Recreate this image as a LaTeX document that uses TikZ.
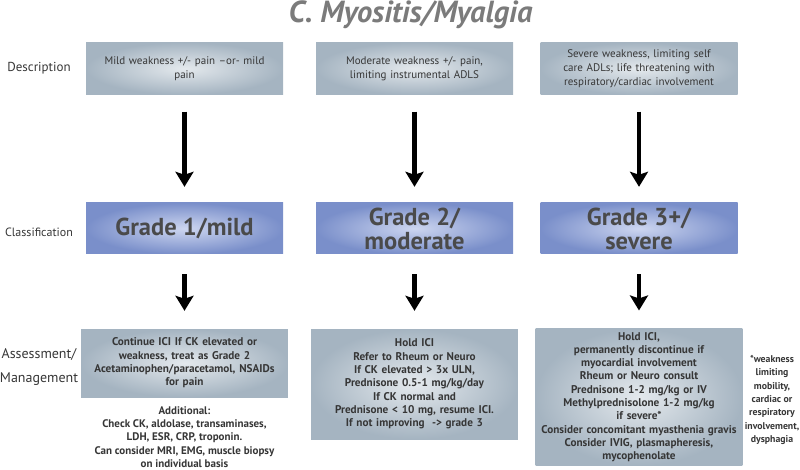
\documentclass[tikz,border=0pt]{standalone}
\usepackage{fontspec}
\setmainfont{PT Sans}
\usepackage{xcolor}
\usepackage{tikz}
\usetikzlibrary{positioning,arrows.meta}
\definecolor{boxedge}{HTML}{A5B4C1}
\definecolor{boxcentre}{HTML}{E4E9ED}
\definecolor{gradeedge}{HTML}{7A8FCA}
\definecolor{gradecentre}{HTML}{CDD6F0}
\definecolor{inkgray}{HTML}{363636}
\definecolor{titlegray}{HTML}{7B7B7B}
\tikzset{
	% The row names on the left side
	rowlabel/.style={
		text=inkgray,align=center,font=\fontsize{13}{15}\selectfont
	},
	% The grey boxes with the symptoms
	description/.style={
		rectangle,minimum width=197pt,minimum height=52pt,
		inner color=boxcentre,outer color=boxedge,
		text=inkgray,align=center,text width=185pt,
		font=\fontsize{11}{14}\selectfont
	},
	% The blue boxes with the grades
	grade/.style={
		rectangle,minimum width=197pt,minimum height=51pt,
		inner color=gradecentre,outer color=gradeedge,
		text=inkgray!90,align=center,
		font=\fontsize{24.5}{24}\bfseries\selectfont
	},
	% The grey boxes with what to do
	management/.style={
		rectangle,minimum width=197pt,
		inner color=boxcentre,outer color=boxedge,
		text=inkgray,align=center,text width=200pt,
		font=\fontsize{11.2}{13.3}\bfseries\selectfont
	},
	% Free text beside the boxes
	note/.style={
		text=inkgray,align=center,
		font=\fontsize{11}{13.3}\bfseries\selectfont
	},
	% The arrows between the rows
	flow/.style={
		-{Stealth[width=18pt,length=15pt,inset=3pt]},line width=4.5pt,
		shorten <=17pt,shorten >=16pt
	},
}
\begin{document}
\begin{tikzpicture}[x=1pt,y=-1pt]
		\useasboundingbox (0,0) rectangle (800,470);
		\node [anchor=base,text=titlegray,font=\fontsize{30.5}{30}\bfseries\itshape\selectfont] (Title) at (410.5,23) {C. Myositis/Myalgia};

		% Row names
		\node [rowlabel] (Description) at (39,68) {Description};
		\node [rowlabel,font=\fontsize{12}{14}\selectfont] (Classification) at (39,232) {Classification};
		\node [rowlabel,font=\fontsize{14}{24}\selectfont] (Management) at (39,367) {Assessment/\\Management};

		% Descriptions
		\node [description] (Mild) at (184.5,68.5) {Mild weakness +/- pain --or- mild\\pain};
		\node [description] (Moderate) at (414.5,68.5) {Moderate weakness +/- pain,\\limiting instrumental ADLS};
		\node [description] (Severe) at (639,68.5) {Severe weakness, limiting self\\care ADLs; life threatening with\\respiratory/cardiac involvement};

		% Grades
		\node [grade] (Grade 1) at (184.5,228.5) {Grade 1/mild};
		\node [grade] (Grade 2) at (414.5,228.5) {Grade 2/\\moderate};
		\node [grade] (Grade 3) at (639,228.5) {Grade 3+/\\severe};

		% Assessment and management
		\node [management,minimum height=68pt] (Manage 1) at (184.5,363) {Continue ICI If CK elevated or\\weakness, treat as Grade 2\\Acetaminophen/paracetamol, NSAIDs\\for pain};
		\node [management,minimum height=110pt] (Manage 2) at (414.5,384) {Hold ICI\\Refer to Rheum or Neuro\\If CK elevated > 3x ULN,\\Prednisone 0.5-1 mg/kg/day\\If CK normal and\\Prednisone < 10 mg, resume ICI.\\If not improving\ \ -> grade 3};
		\node [management,minimum height=136pt] (Manage 3) at (639,397) {Hold ICI,\\permanently discontinue if\\myocardial involvement\\Rheum or Neuro consult\\Prednisone 1-2 mg/kg or IV\\Methylprednisolone 1-2 mg/kg\\if severe*\\Consider concomitant myasthenia gravis\\Consider IVIG, plasmapheresis,\\mycophenolate};
		\node [note] (Additional) at (184.5,437) {Additional:\\Check CK, aldolase, transaminases,\\LDH, ESR, CRP, troponin.\\Can consider MRI, EMG, muscle biopsy\\on individual basis};
		\node [note,font=\fontsize{9.8}{13.3}\bfseries\selectfont] (Footnote) at (772,400) {*weakness\\limiting\\mobility,\\cardiac or\\respiratory\\involvement,\\dysphagia};

		\draw [flow] (Mild) -- (Grade 1);
		\draw [flow] (Moderate) -- (Grade 2);
		\draw [flow] (Severe) -- (Grade 3);
		\draw [flow,shorten <=20pt,shorten >=18pt] (Grade 1) -- (Manage 1);
		\draw [flow,shorten <=20pt,shorten >=18pt] (Grade 2) -- (Manage 2);
		\draw [flow,shorten <=20pt,shorten >=18pt] (Grade 3) -- (Manage 3);
	\end{tikzpicture}
\end{document}
